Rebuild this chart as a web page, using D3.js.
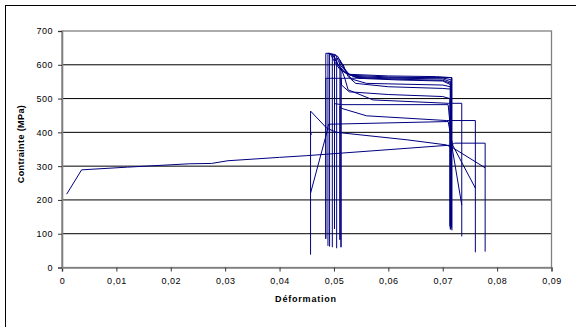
<!DOCTYPE html>
<html><head><meta charset="utf-8">
<script src="https://cdn.jsdelivr.net/npm/d3@7"></script>
<style>
html,body{margin:0;padding:0;background:#fff;overflow:hidden}
text{font-family:"Liberation Sans",Arial,sans-serif}
</style></head>
<body>
<script>
// ---- data (strain, stress MPa) ----
const xTicks = [0,0.01,0.02,0.03,0.04,0.05,0.06,0.07,0.08,0.09];
const yTicks = [0,100,200,300,400,500,600,700];
const xTitle = "Déformation";
const yTitle = "Contrainte (MPa)";

const s0 = [[0.00086,217],[0.0036,289],[0.012,297],[0.0235,307],[0.0275,308],[0.0305,316],[0.040,326],[0.045,331],[0.0695,360],[0.0715,362],[0.0722,368],[0.0778,368],[0.0778,47]];
const sA = [[0.0457,38],[0.0457,395],[0.0459,395],[0.0457,395],[0.0457,463],[0.0487,412],[0.0505,400],[0.0634,378],[0.0706,363],[0.0718,355],[0.0778,295]];
const sB = [[0.0457,220],[0.0487,400],[0.0490,424],[0.0710,432],[0.0718,363],[0.0760,235]];
const s1 = [[0.0485,85],[0.0485,634],[0.0493,634],[0.0500,612],[0.0510,588],[0.0525,572],[0.0600,567],[0.0689,565],[0.0716,562],[0.0716,118]];
const s2 = [[0.0489,64],[0.0489,634],[0.0497,632],[0.0505,606],[0.0515,582],[0.0530,569],[0.0600,564],[0.0700,561],[0.0715,556],[0.0715,112]];
const s3 = [[0.0492,62],[0.0492,632],[0.0499,630],[0.0508,600],[0.0520,578],[0.0535,566],[0.0600,561],[0.0700,558],[0.0714,550],[0.0714,115]];
const s4 = [[0.0497,60],[0.0497,632],[0.0503,630],[0.0512,598],[0.0525,575],[0.0540,563],[0.0600,558],[0.0700,554],[0.0715,545],[0.0715,120]];
const s5 = [[0.0501,114],[0.0501,628],[0.0507,625],[0.0516,595],[0.0528,572],[0.0545,560],[0.0620,555],[0.0700,552],[0.0716,540],[0.0716,125]];
const s6 = [[0.0505,57],[0.0505,620],[0.0511,615],[0.0520,585],[0.0532,558],[0.0560,545],[0.0700,540],[0.0714,535],[0.0714,113]];
const s7 = [[0.0511,82],[0.0511,610],[0.0517,600],[0.0526,565],[0.0540,545],[0.0600,535],[0.0700,530],[0.0715,528],[0.0715,117]];
const s8 = [[0.0513,60],[0.0513,560],[0.0514,540],[0.0528,520],[0.0600,512],[0.0700,506],[0.0713,500],[0.0713,122]];
const s9 = [[0.0513,60],[0.0513,590],[0.0520,560],[0.0526,526],[0.0572,496],[0.0710,486],[0.0735,486],[0.0735,92]];
const s10 = [[0.0501,114],[0.0501,485],[0.0514,482],[0.0710,482],[0.0718,348],[0.0735,185]];
const s11 = [[0.0511,82],[0.0511,478],[0.0514,471],[0.0560,449],[0.0707,435],[0.0760,435],[0.0760,45]];
const s12 = [[0.0485,85],[0.0485,560],[0.0511,560],[0.0689,562],[0.0717,562],[0.0717,110]];
const series = [s0,sA,sB,s1,s2,s3,s4,s5,s6,s7,s8,s9,s10,s11,s12];

// ---- drawing ----
const W = 576, H = 327;
const svg = d3.select("body").append("svg").attr("width",W).attr("height",H);
svg.append("rect").attr("x",0).attr("y",0).attr("width",W).attr("height",H).attr("fill","#fff");
// outer frame (right/bottom fall outside view)
svg.append("rect").attr("x",5.5).attr("y",5.5).attr("width",700).attr("height",500)
  .attr("fill","none").attr("stroke","#000").attr("stroke-width",1);

const x = d3.scaleLinear().domain([0,0.09]).range([62,551.5]);
const y = d3.scaleLinear().domain([0,700]).range([267.5,31]);

// gridlines
svg.append("g").selectAll("line").data(yTicks.filter(v=>v>0&&v<700)).join("line")
  .attr("x1",x(0)).attr("x2",x(0.09)).attr("y1",d=>y(d)).attr("y2",d=>y(d))
  .attr("stroke","#000").attr("stroke-width",1);

// plot border
svg.append("rect").attr("x",x(0)).attr("y",y(700)).attr("width",x(0.09)-x(0)).attr("height",y(0)-y(700))
  .attr("fill","none").attr("stroke","#808080").attr("stroke-width",1.3);

const fmt = v => v===0 ? "0" : d3.format(".2f")(v).replace(".",",");

const xAxis = svg.append("g").attr("transform",`translate(0,${y(0)})`)
  .call(d3.axisBottom(x).tickValues(xTicks).tickFormat(fmt).tickSize(4).tickPadding(6));
const yAxis = svg.append("g").attr("transform",`translate(${x(0)},0)`)
  .call(d3.axisLeft(y).tickValues(yTicks).tickFormat(d3.format("d")).tickSize(4).tickPadding(5));
[xAxis,yAxis].forEach(g=>{
  g.select(".domain").attr("stroke","#808080").attr("stroke-width",1.6);
  g.selectAll(".tick line").attr("stroke","#333");
  g.selectAll("text").attr("font-family","Liberation Sans, Arial, sans-serif")
    .attr("font-size",9).attr("letter-spacing",0.5).attr("fill","#000");
});

// series
const line = d3.line().x(d=>x(d[0])).y(d=>y(d[1]));
svg.append("g").selectAll("path").data(series).join("path")
  .attr("d",line).attr("fill","none").attr("stroke","#000080").attr("stroke-width",1)
  .attr("stroke-linejoin","miter");

// titles
svg.append("text").attr("x",306).attr("y",302).attr("text-anchor","middle")
  .attr("font-size",9).attr("font-weight","bold").attr("letter-spacing",0.8).text(xTitle);
svg.append("text").attr("transform","translate(24,144) rotate(-90)").attr("text-anchor","middle")
  .attr("font-size",9).attr("font-weight","bold").attr("letter-spacing",0.4).text(yTitle);
</script>
</body></html>
